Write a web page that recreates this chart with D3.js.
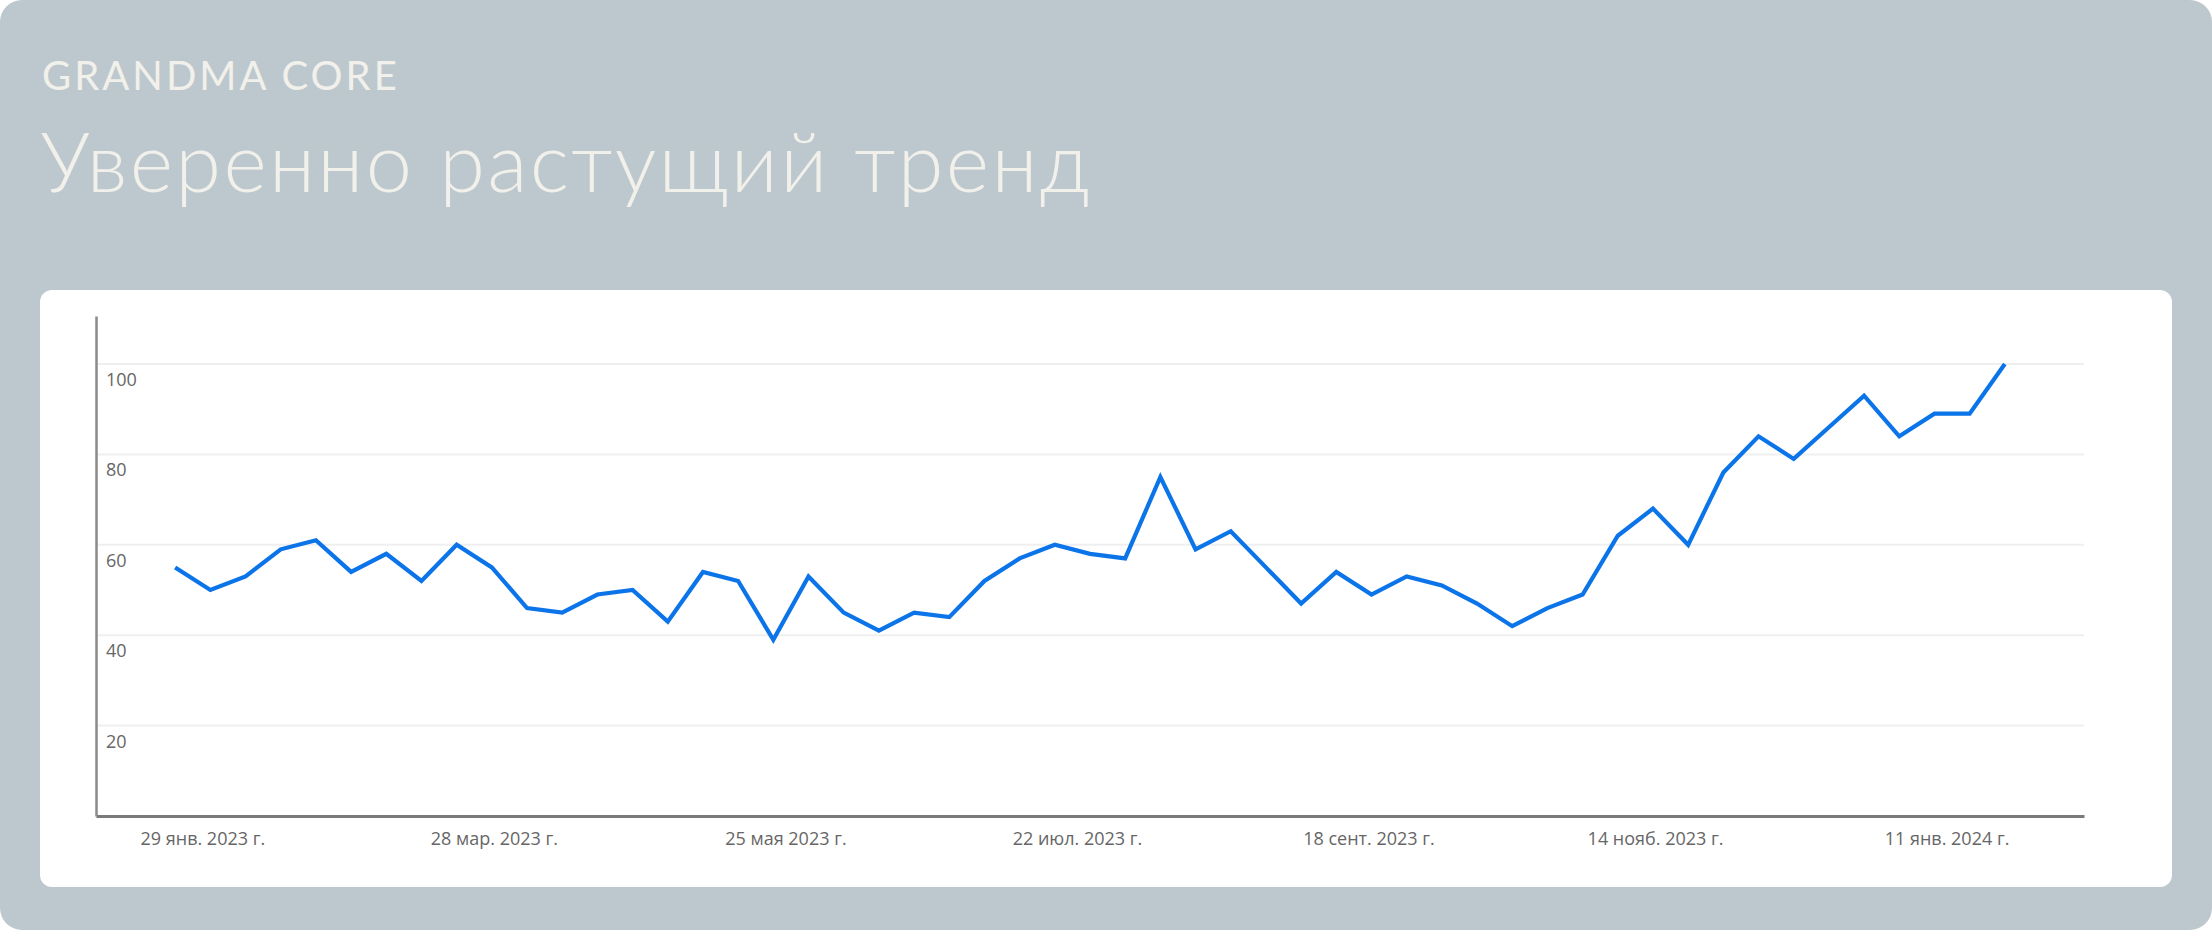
<!DOCTYPE html>
<html>
<head>
<meta charset="utf-8">
<script src="https://cdn.jsdelivr.net/npm/d3@7"></script>
<style>
  body { margin: 0; background: #ffffff; }
</style>
</head>
<body>
<div id="chart-container"></div>
<script>
// weekly interest, starting week of 22 Jan 2023
const startWeek = "2023-01-22";
const values = [
  55, 50, 53, 59, 61, 54, 58, 52, 60, 55,
  46, 45, 49, 50, 43, 54, 52, 39, 53, 45,
  41, 45, 44, 52, 57, 60, 58, 57, 75, 59,
  63, 55, 47, 54, 49, 53, 51, 47, 42, 46,
  49, 62, 68, 60, 76, 84, 79, 86, 93, 84,
  89, 89, 100
];
const tickDates = ["2023-01-29", "2023-03-28", "2023-05-25", "2023-07-22", "2023-09-18", "2023-11-14", "2024-01-11"];
const tickLabels = ["29 янв. 2023 г.", "28 мар. 2023 г.", "25 мая 2023 г.", "22 июл. 2023 г.", "18 сент. 2023 г.", "14 нояб. 2023 г.", "11 янв. 2024 г."];
const yTicks = [20, 40, 60, 80, 100];

const width = 2212;
const height = 930;

const parse = d3.utcParse("%Y-%m-%d");
const first = parse(startWeek);
const data = values.map((v, i) => ({ date: d3.utcWeek.offset(first, i), value: v }));

const svg = d3
  .select("#chart-container")
  .append("svg")
  .attr("width", width)
  .attr("height", height);

// background card
svg.append("rect")
  .attr("width", width)
  .attr("height", height)
  .attr("rx", 22)
  .style("fill", "#bdc8ce");

svg.append("text")
  .attr("x", 42)
  .attr("y", 90)
  .text("GRANDMA CORE")
  .style("font-family", "Lato, sans-serif")
  .style("font-size", "40px")
  .style("letter-spacing", "3px")
  .style("fill", "#f1f0ea");

svg.append("text")
  .attr("x", 40)
  .attr("y", 192)
  .text("Уверенно растущий тренд")
  .style("font-family", "Lato, sans-serif")
  .style("font-weight", 300)
  .style("font-size", "83px")
  .style("letter-spacing", "2.3px")
  .style("fill", "#f1f0ea");

// white panel
svg.append("rect")
  .attr("x", 40)
  .attr("y", 290)
  .attr("width", 2132)
  .attr("height", 597)
  .attr("rx", 12)
  .style("fill", "#ffffff");

const plot = { left: 96, right: 2084, top: 316, bottom: 816 };
const pad = 15.75 * 864e5;

const x = d3.scaleUtc()
  .domain([new Date(+data[0].date - pad), new Date(+data[data.length - 1].date + pad)])
  .range([plot.left, plot.right]);

const y = d3.scaleLinear()
  .domain([0, 100 * (plot.bottom - plot.top) / 452])
  .range([plot.bottom, plot.top]);

// gridlines
svg.append("g")
  .selectAll("line")
  .data(yTicks)
  .enter()
  .append("line")
  .attr("x1", plot.left)
  .attr("x2", plot.right)
  .attr("y1", (d) => y(d))
  .attr("y2", (d) => y(d))
  .style("stroke", "#efefef")
  .style("stroke-width", 2);

// y labels sit just below their gridline
svg.append("g")
  .selectAll("text")
  .data(yTicks)
  .enter()
  .append("text")
  .attr("x", 106)
  .attr("y", (d) => y(d) + 22)
  .text((d) => d)
  .style("font-family", "'Open Sans', sans-serif")
  .style("font-size", "18px")
  .style("fill", "#666666");

// axes
const xAxis = d3.axisBottom(x)
  .tickValues(tickDates.map(parse))
  .tickFormat((d, i) => tickLabels[i])
  .tickSize(0)
  .tickPadding(16);

const gx = svg.append("g")
  .attr("transform", `translate(0,${plot.bottom})`)
  .call(xAxis);
gx.select(".domain").style("stroke", "#7a7a7a").style("stroke-width", 3);
gx.selectAll("text")
  .attr("dx", -8)
  .style("font-family", "'Open Sans', sans-serif")
  .style("font-size", "18px")
  .style("fill", "#666666");

const yAxis = d3.axisLeft(y).tickValues([]).tickSize(0);
const gy = svg.append("g")
  .attr("transform", `translate(${plot.left},0)`)
  .call(yAxis);
gy.select(".domain").style("stroke", "#8a8a8a").style("stroke-width", 2.5);

// the trend line
const line = d3.line()
  .x((d) => x(d.date))
  .y((d) => y(d.value));

svg.append("path")
  .datum(data)
  .attr("d", line)
  .style("fill", "none")
  .style("stroke", "#0b74e8")
  .style("stroke-width", 4.2)
  .style("stroke-linejoin", "miter");
</script>
</body>
</html>
